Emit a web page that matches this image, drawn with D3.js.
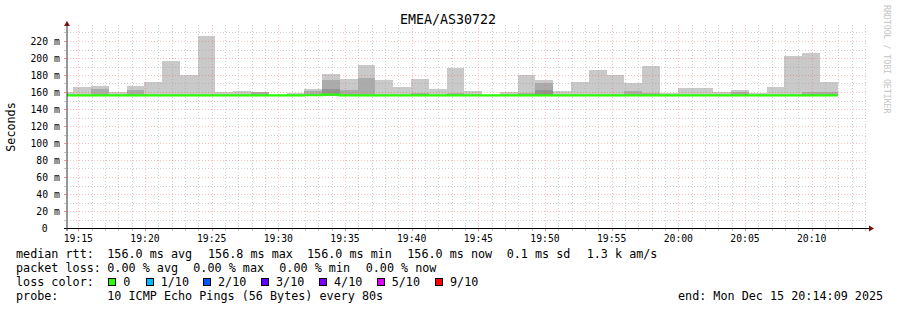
<!DOCTYPE html>
<html><head><meta charset="utf-8">
<script src="https://cdn.jsdelivr.net/npm/d3@7"></script>
<style>
html,body{margin:0;padding:0;background:#fff;}
svg{display:block;}
text{font-family:"DejaVu Sans Mono",monospace;}
</style></head><body>
<svg id="c" width="897" height="310"></svg>
<script>
// ---------------- data ----------------
const title = "EMEA/AS30722";
const yAxisTitle = "Seconds";
const watermark = "RRDTOOL / TOBI OETIKER";
const graphStart = "2025-12-15T19:14:09Z";
const graphEnd = "2025-12-15T20:14:09Z";
const firstStep = "2025-12-15T19:13:17Z";
const stepSeconds = 80;
const smokeFloor = 155.5; // ms, lowest ping (hidden under median)
// highest ping per 80 s step (ms)
const smokeTop = [160, 166,167.5,160.5,167,172,197,179.5,226,160,161.5,160,157,158.5,164,181.5,175.5,192,174.5,166,175.5,164,188.5,161.5,157,160,180.5,174.5,161.5,172,186,180.5,171,191,159,165,165,160.5,162.5,159,166,202.5,206,172];
// inner (darker) smoke layer per step (ms)
const smokeMid = [null, null,164,null,162.5,null,null,null,null,null,null,160,null,null,161,174.5,162.5,177,null,null,158.5,null,159,null,null,null,159,171,null,null,null,null,161.5,159,null,null,null,null,160,null,null,null,160,160];
// innermost (darkest) smoke layer per step (ms)
const smokeDark = [null, null,null,null,null,null,null,null,null,null,null,null,null,null,null,164,null,null,null,null,null,null,null,null,null,null,null,162.5,null,null,null,null,null,null,null,null,null,null,null,null,null,null,null,null];
// median rtt per step (ms)
const medianRtt = [156,156,156,156,156,156,156,156,156,156,156,156,156,156,156.2,156.8,156,156,156,156,156,156,156,156,156,156,156,156,156,156,156,156,156,156,156,156,156,156,156,156,156,156,156,156];
const yMax = 240;
const yLabelTicks = [0,20,40,60,80,100,120,140,160,180,200,220];
const yMinorTicks = [10,30,50,70,90,110,130,150,170,190,210,230];
const xTickLabels = ["19:15","19:20","19:25","19:30","19:35","19:40","19:45","19:50","19:55","20:00","20:05","20:10"];
const legendRtt = ["median rtt:","156.0 ms avg","156.8 ms max","156.0 ms min","156.0 ms now","0.1 ms sd","1.3 k am/s"];
const legendLoss = ["packet loss:","0.00 % avg","0.00 % max","0.00 % min","0.00 % now"];
const lossLabels = ["0","1/10","2/10","3/10","4/10","5/10","9/10"];
const lossColors = ["#26ff00","#00b8ff","#0059ff","#5e00ff","#7e00ff","#dd00ff","#ff0000"];
const lossTitle = "loss color:";
const probeLegend = ["probe:","10 ICMP Echo Pings (56 Bytes) every 80s"];
const endLabel = "end: Mon Dec 15 20:14:09 2025";

// ---------------- layout ----------------
const M = {left:67, right:867, top:24, bottom:228};
const legendRowY = [258, 272, 286, 300];
const rttX = [16,107.3,208,307,407.3,506.7,586.7];
const lossX = [16,107.3,193.3,279.3,365.7];
const swatchX = [108.5,146,203.5,261,319,377,435];
const swatchTextX = [123.3,160.7,218,276,334,391.7,450];
const FS = 11.75;
const GRID_MINOR = "rgba(160,160,160,0.5)";
const GRID_MAJOR = "rgba(255,60,60,0.33)";

const svg = d3.select("#c");
const x = d3.scaleUtc().domain([new Date(graphStart), new Date(graphEnd)]).range([M.left, M.right]);
const y = d3.scaleLinear().domain([0, yMax]).range([M.bottom, M.top]);

svg.append("rect").attr("width",897).attr("height",310).attr("fill","#fff");
svg.append("defs").append("clipPath").attr("id","plot").append("rect")
  .attr("x",M.left).attr("y",M.top).attr("width",M.right-M.left).attr("height",M.bottom-M.top);

const t0 = new Date(firstStep).getTime();
const steps = smokeTop.map((v,i)=>({
  s:new Date(t0+i*stepSeconds*1000), e:new Date(t0+(i+1)*stepSeconds*1000),
  top:v, mid:smokeMid[i], dark:smokeDark[i], med:medianRtt[i]}));

const g = svg.append("g").attr("clip-path","url(#plot)");
function layer(key,color){
  g.append("g").selectAll("rect").data(steps.filter(d=>d[key]!=null)).join("rect")
    .attr("x",d=>Math.round(x(d.s))).attr("width",d=>Math.round(x(d.e))-Math.round(x(d.s)))
    .attr("y",d=>Math.round(y(d[key]))).attr("height",d=>Math.round(y(smokeFloor))-Math.round(y(d[key])))
    .attr("fill",color).attr("shape-rendering","crispEdges");
}
layer("top","#c9c9c9");
layer("mid","#ababab");
layer("dark","#939393");

// grid
const grid = svg.append("g").attr("shape-rendering","crispEdges");
const minutes = d3.utcMinute.range(new Date(graphStart), new Date(graphEnd));
const majorSet = new Set(xTickLabels);
const fmt = d3.utcFormat("%H:%M");
const px = v=>Math.round(v)+0.5;
grid.selectAll(".vx").data(minutes).join("line")
  .attr("x1",d=>px(x(d))).attr("x2",d=>px(x(d))).attr("y1",M.top+1).attr("y2",M.bottom)
  .attr("stroke",d=>majorSet.has(fmt(d))?GRID_MAJOR:GRID_MINOR)
  .attr("stroke-dasharray","1,2");
grid.selectAll(".hy").data(yMinorTicks.concat(yLabelTicks.filter(v=>v>0))).join("line")
  .attr("x1",M.left).attr("x2",M.right).attr("y1",d=>px(y(d))).attr("y2",d=>px(y(d)))
  .attr("stroke",d=>d%20===0?GRID_MAJOR:GRID_MINOR)
  .attr("stroke-dasharray","1,2");

// median line
const medPts = steps.map(d=>[d.s,d.med]).concat([[steps[steps.length-1].e, steps[steps.length-1].med]]);
g.append("path").datum(medPts)
  .attr("d", d3.line().x(d=>x(d[0])).y(d=>y(d[1])).curve(d3.curveStepAfter))
  .attr("fill","none").attr("stroke",lossColors[0]).attr("stroke-width",2.2);

// ticks
const ticks = svg.append("g").attr("shape-rendering","crispEdges");
ticks.selectAll(".xt").data(minutes).join("line")
  .attr("x1",d=>px(x(d))).attr("x2",d=>px(x(d))).attr("y1",M.bottom+1).attr("y2",M.bottom+3)
  .attr("stroke",d=>majorSet.has(fmt(d))?"rgba(255,0,0,0.45)":"rgba(150,150,150,0.55)");
ticks.selectAll(".yt").data(yMinorTicks.concat(yLabelTicks)).join("line")
  .attr("x1",M.left-3).attr("x2",M.left-1).attr("y1",d=>px(y(d))).attr("y2",d=>px(y(d)))
  .attr("stroke",d=>d%20===0?"rgba(255,0,0,0.45)":"rgba(150,150,150,0.55)");

// axes
svg.append("line").attr("x1",M.left-3).attr("x2",M.right+2).attr("y1",M.bottom+0.5).attr("y2",M.bottom+0.5)
  .attr("stroke","#000").attr("shape-rendering","crispEdges");
svg.append("line").attr("x1",M.left).attr("x2",M.left).attr("y1",M.bottom+3).attr("y2",M.top)
  .attr("stroke","#333");
svg.append("path").attr("d",`M${M.left-3},${M.top+2}L${M.left+3},${M.top+2}L${M.left},${M.top-3}Z`).attr("fill","#7f1010");
svg.append("path").attr("d",`M${M.right+2},${M.bottom-2.5}L${M.right+2},${M.bottom+3.5}L${M.right+7},${M.bottom+0.5}Z`).attr("fill","#7f1010");

// tick labels
svg.selectAll(".yl").data(yLabelTicks).join("text")
  .attr("x",d=>d===0?44.7:59.8).attr("y",d=>y(d)+3.6)
  .attr("text-anchor",d=>d===0?"middle":"end")
  .attr("font-size",9.75).attr("fill","#000")
  .text(d=>d===0?"0":`${d} m`);
const parseHM = s=>{const [h,m]=s.split(":").map(Number);return new Date(Date.UTC(2025,11,15,h,m,0));};
svg.selectAll(".xl").data(xTickLabels).join("text")
  .attr("x",d=>x(parseHM(d))).attr("y",241.5).attr("text-anchor","middle")
  .attr("font-size",9.75).attr("fill","#000").text(d=>d);

// title, axis title, watermark
svg.append("text").attr("x",448).attr("y",24).attr("text-anchor","middle").attr("font-size",13.3).attr("fill","#000").text(title);
svg.append("text").attr("transform","translate(14.5,127) rotate(-90)").attr("text-anchor","middle")
  .attr("font-size",FS).attr("fill","#000").text(yAxisTitle);
svg.append("text").attr("transform","translate(884,5) rotate(90)").attr("text-anchor","start")
  .attr("font-size",8.2).attr("fill","#c4c4c4").text(watermark);

// legend
const lg = svg.append("g").attr("font-size",FS).attr("fill","#000");
lg.selectAll(".r1").data(legendRtt).join("text").attr("x",(d,i)=>rttX[i]).attr("y",legendRowY[0]).text(d=>d);
lg.selectAll(".r2").data(legendLoss).join("text").attr("x",(d,i)=>lossX[i]).attr("y",legendRowY[1]).text(d=>d);
lg.append("text").attr("x",16).attr("y",legendRowY[2]).text(lossTitle);
lg.selectAll(".sw").data(lossColors).join("rect")
  .attr("x",(d,i)=>swatchX[i]).attr("y",legendRowY[2]-7.5).attr("width",7).attr("height",7)
  .attr("fill",d=>d).attr("stroke","#000").attr("stroke-width",1).attr("shape-rendering","crispEdges");
lg.selectAll(".sl").data(lossLabels).join("text").attr("x",(d,i)=>swatchTextX[i]).attr("y",legendRowY[2]).text(d=>d);
lg.append("text").attr("x",16).attr("y",legendRowY[3]).text(probeLegend[0]);
lg.append("text").attr("x",107.3).attr("y",legendRowY[3]).text(probeLegend[1]);
lg.append("text").attr("x",678).attr("y",legendRowY[3]).text(endLabel);
</script>
</body></html>
